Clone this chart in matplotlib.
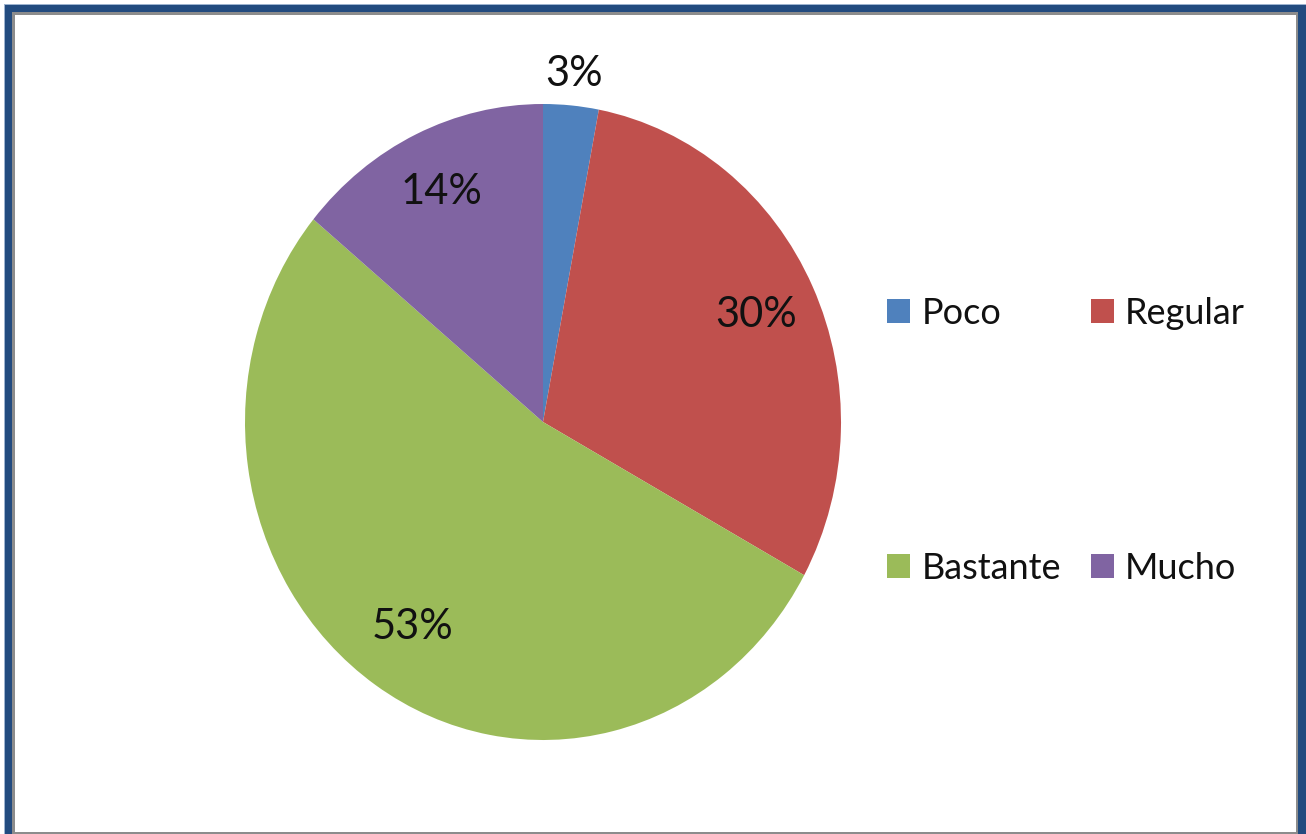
import matplotlib.pyplot as plt
from matplotlib.patches import Rectangle
import numpy as np

plt.rcParams['font.family'] = ['Lato', 'DejaVu Sans']

# Data
categories = ['Poco', 'Regular', 'Bastante', 'Mucho']
percentages = [3, 30, 53, 14]
colors = ['#4F81BD', '#C0504D', '#9BBB59', '#8064A2']
label_dist = [1.10, 0.79, 0.78, 0.80]

W, H = 1306, 834
fig = plt.figure(figsize=(W / 100, H / 100), dpi=100)


def px_rect(x0, y0, x1, y1, color):
    # rectangle given in pixel coords (origin top-left)
    fig.add_artist(Rectangle((x0 / W, 1 - y1 / H), (x1 - x0) / W, (y1 - y0) / H,
                             transform=fig.transFigure, facecolor=color,
                             edgecolor='none', zorder=0))


# frame
px_rect(4, 4, W + 5, H + 5, '#9DB3CF')
px_rect(5, 5, W + 5, H + 5, '#224B7F')
px_rect(12, 12, 1298, H + 5, '#8C8C8C')
px_rect(15, 15, 1296, 832, 'white')

# pie axes (slightly taller than wide, as in the reference)
cx, cy, rx, ry = 543, 422, 298, 318
ax = fig.add_axes([(cx - rx) / W, 1 - (cy + ry) / H, 2 * rx / W, 2 * ry / H])
wedges, _ = ax.pie(percentages, colors=colors, startangle=90, counterclock=False,
                   wedgeprops=dict(linewidth=0))
ax.set_aspect('auto')
ax.set_xlim(-1, 1)
ax.set_ylim(-1, 1)
ax.axis('off')

for w, p, d in zip(wedges, percentages, label_dist):
    ang = np.deg2rad((w.theta1 + w.theta2) / 2)
    ax.text(d * np.cos(ang), d * np.sin(ang), f'{p}%', ha='center', va='center',
            fontsize=30, color='#111111')

# legend: two columns, Poco/Regular on top row, Bastante/Mucho on bottom
order = [0, 2, 1, 3]
leg = fig.legend([wedges[i] for i in order], [categories[i] for i in order],
                 ncol=2, loc='upper left', bbox_to_anchor=(887 / W, 1 - 297 / H),
                 frameon=False, fontsize=26, handlelength=0.65, handleheight=0.65,
                 handletextpad=0.3, labelspacing=6.15, columnspacing=0.83,
                 borderaxespad=0, borderpad=0)
for t in leg.get_texts():
    t.set_color('#111111')

plt.savefig('out.png', dpi=100)
